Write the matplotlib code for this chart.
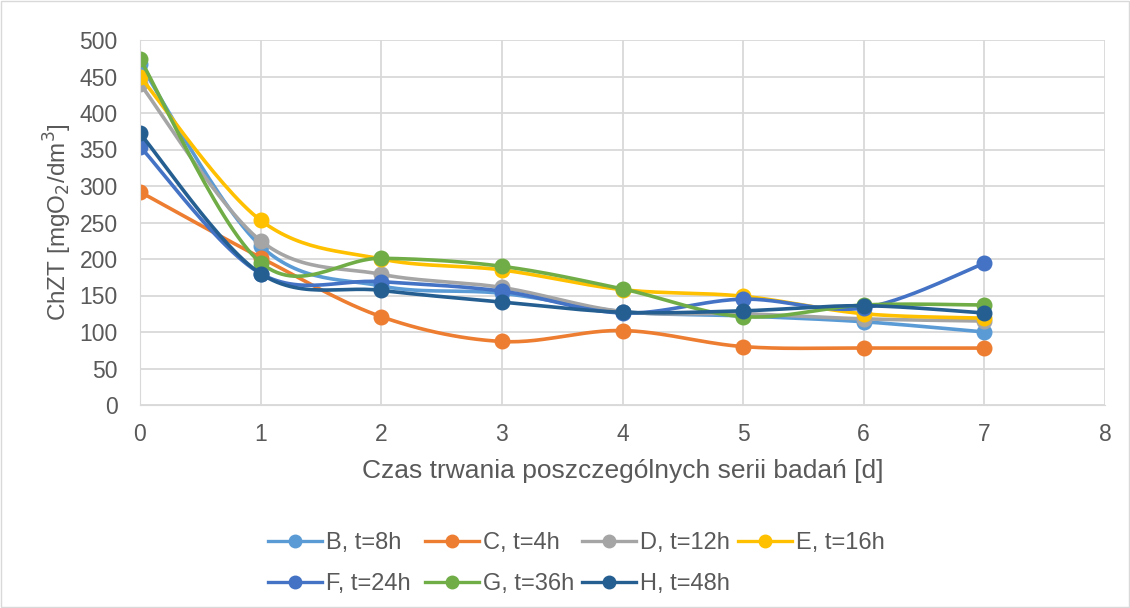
import numpy as np
import matplotlib
matplotlib.use('Agg')
import matplotlib.pyplot as plt

plt.rcParams['font.family'] = ['Liberation Sans', 'DejaVu Sans']

days = [0, 1, 2, 3, 4, 5, 6, 7]
labels = ['B, t=8h', 'C, t=4h', 'D, t=12h', 'E, t=16h', 'F, t=24h', 'G, t=36h', 'H, t=48h']
B = [467, 218, 163, 153, 128, 122, 114, 100]
C = [292, 202, 121, 87, 102, 80, 78, 78]
D = [440, 225, 179, 161, 128, 125, 118, 115]
E = [450, 253, 200, 185, 158, 149, 125, 119]
F = [354, 180, 169, 156, 126, 145, 133, 194]
G = [474, 195, 201, 190, 159, 121, 137, 137]
H = [372, 180, 157, 141, 127, 129, 136, 126]
series = [B, C, D, E, F, G, H]
colors = ['#5B9BD5', '#ED7D31', '#A5A5A5', '#FFC000', '#4472C4', '#70AD47', '#255E91']


def smooth(x, y, n=30):
    # Catmull-Rom style curve like Excel's smoothed line
    x = np.asarray(x, float)
    y = np.asarray(y, float)
    px = np.concatenate([[x[0]], x, [x[-1]]])
    py = np.concatenate([[y[0]], y, [y[-1]]])
    xs, ys = [], []
    t = np.linspace(0, 1, n)
    for i in range(1, len(px) - 2):
        p0 = np.array([px[i], py[i]])
        p3 = np.array([px[i + 1], py[i + 1]])
        p1 = p0 + (np.array([px[i + 1], py[i + 1]]) - np.array([px[i - 1], py[i - 1]])) / 6
        p2 = p3 - (np.array([px[i + 2], py[i + 2]]) - np.array([px[i], py[i]])) / 6
        b = ((1 - t) ** 3)[:, None] * p0 + (3 * (1 - t) ** 2 * t)[:, None] * p1 \
            + (3 * (1 - t) * t ** 2)[:, None] * p2 + (t ** 3)[:, None] * p3
        xs.extend(b[:, 0])
        ys.extend(b[:, 1])
    return xs, ys


fig = plt.figure(figsize=(11.3, 6.08), dpi=100)
ax = fig.add_axes([140 / 1130, 1 - 405 / 608, 965 / 1130, 365 / 608])

handles = []
for vals, col, lab in zip(series, colors, labels):
    sx, sy = smooth(days, vals)
    ax.plot(sx, sy, color=col, linewidth=2.6, solid_capstyle='round')
    ax.plot(days, vals, linestyle='none', marker='o', markersize=10.5, color=col)
    h, = ax.plot([], [], color=col, linewidth=2.4, marker='o', markersize=9, label=lab)
    handles.append(h)

ax.set_xlim(0, 8)
ax.set_ylim(0, 500)
ax.set_xticks(range(0, 9))
ax.set_yticks(range(0, 501, 50))
ax.grid(True, color='#D9D9D9', linewidth=1.3)
ax.set_axisbelow(True)
for s in ['top', 'right']:
    ax.spines[s].set_visible(False)
ax.spines['left'].set_color('#D9D9D9')
ax.spines['bottom'].set_color('#D9D9D9')
ax.tick_params(length=0, labelsize=16.5, labelcolor='#595959')
ax.tick_params(axis='x', pad=13)
ax.tick_params(axis='y', pad=16)
ax.set_xlabel('Czas trwania poszczególnych serii badań [d]', fontsize=19, color='#595959', labelpad=9)
ax.set_ylabel('ChZT [mgO$_2$/dm$^3$]', fontsize=17.5, color='#595959', labelpad=4)

# Excel-style legend: 4 equal-width columns, filled row by row
col_left = [268, 425, 582, 738]
for c in range(4):
    idx = [i for i in (c, c + 4) if i < len(labels)]
    leg = fig.legend([handles[i] for i in idx], [labels[i] for i in idx],
                     loc='upper left', bbox_to_anchor=(col_left[c] / 1130, 1 - 532 / 608),
                     frameon=False, fontsize=17, handlelength=2.3, handletextpad=0.15,
                     borderpad=0, borderaxespad=0, labelspacing=0.8)
    for t in leg.get_texts():
        t.set_color('#595959')

fig.patches.append(plt.Rectangle((0.001, 0.001), 0.998, 0.998, transform=fig.transFigure,
                                 fill=False, edgecolor='#D9D9D9', linewidth=1))

fig.savefig('out.png', dpi=100)
